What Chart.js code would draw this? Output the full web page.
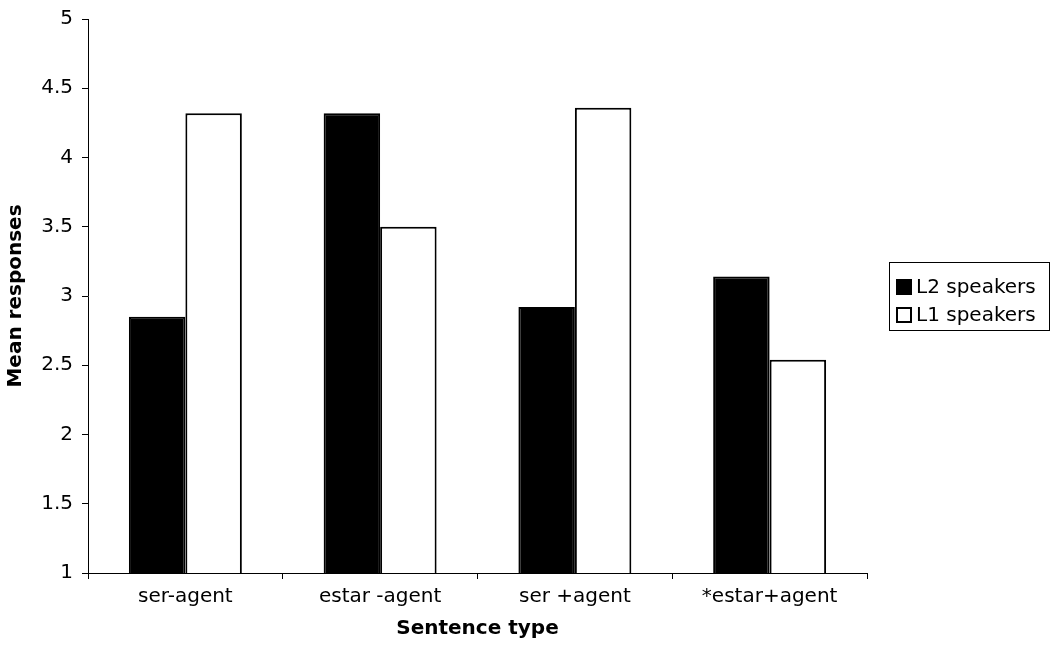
<!DOCTYPE html>
<html>
<head>
<meta charset="utf-8">
<script src="https://cdn.jsdelivr.net/npm/chart.js@4"></script>
<style>
  html, body { margin: 0; padding: 0; background: #fff; }
  #wrap { width: 1052px; height: 653px; }
</style>
</head>
<body>
<div id="wrap"><canvas id="chart" width="1052" height="653"></canvas></div>
<script>
const categories = ['ser-agent', 'estar -agent', 'ser +agent', '*estar+agent'];
const l2Speakers = [2.85, 4.32, 2.92, 3.14];
const l1Speakers = [4.32, 3.50, 4.36, 2.54];
const yTicks = [1, 1.5, 2, 2.5, 3, 3.5, 4, 4.5, 5];

const FONT = 'DejaVu Sans, Verdana, sans-serif';

// legend box drawn by hand so it can sit in the right margin like the original
const boxLegend = {
  id: 'boxLegend',
  afterDraw(chart) {
    const ctx = chart.ctx;
    const x = 889, y = 262, w = 160, h = 68;
    ctx.save();
    ctx.strokeStyle = '#000';
    ctx.lineWidth = 1;
    ctx.strokeRect(x + 0.5, y + 0.5, w, h);
    ctx.font = '20px ' + FONT;
    ctx.textBaseline = 'middle';
    chart.data.datasets.forEach((ds, i) => {
      const cy = y + 25 + i * 28;
      ctx.fillStyle = ds.backgroundColor;
      ctx.fillRect(897, cy - 7, 14, 14);
      ctx.lineWidth = 2;
      ctx.strokeStyle = '#000';
      ctx.strokeRect(897, cy - 7, 14, 14);
      ctx.fillStyle = '#000';
      ctx.fillText(ds.label, 916, cy + 1);
    });
    ctx.restore();
  }
};

new Chart(document.getElementById('chart').getContext('2d'), {
  type: 'bar',
  data: {
    labels: categories,
    datasets: [
      { label: 'L2 speakers', data: l2Speakers, backgroundColor: '#000', borderColor: '#000', borderWidth: 2 },
      { label: 'L1 speakers', data: l1Speakers, backgroundColor: '#fff', borderColor: '#000', borderWidth: 2 }
    ]
  },
  options: {
    responsive: false,
    animation: false,
    layout: { padding: { top: 14, right: 185, left: 0, bottom: 0 } },
    plugins: { legend: { display: false }, tooltip: { enabled: false } },
    datasets: { bar: { categoryPercentage: 0.58, barPercentage: 1.0 } },
    scales: {
      x: {
        grid: { display: true, drawOnChartArea: false, drawTicks: true, tickLength: 6, color: '#000' },
        border: { color: '#000' },
        ticks: { color: '#000', font: { family: FONT, size: 20 }, padding: 6 },
        title: { display: true, text: 'Sentence type', color: '#000', font: { family: FONT, size: 20, weight: 'bold' }, padding: { top: 4, bottom: 12 } },
        afterFit(scale) { scale.height = 80; }
      },
      y: {
        min: 1, max: 5,
        afterBuildTicks(scale) { scale.ticks = yTicks.map(v => ({ value: v })); },
        grid: { display: true, drawOnChartArea: false, drawTicks: true, tickLength: 6, color: '#000' },
        border: { color: '#000' },
        ticks: { color: '#000', font: { family: FONT, size: 20, lineHeight: 1 }, padding: 9, callback: v => String(v) },
        title: { display: true, text: 'Mean responses', color: '#000', font: { family: FONT, size: 20, weight: 'bold' }, padding: { top: 4, bottom: 8 } },
        afterFit(scale) { scale.width = 88; }
      }
    }
  },
  plugins: [boxLegend]
});
</script>
</body>
</html>
